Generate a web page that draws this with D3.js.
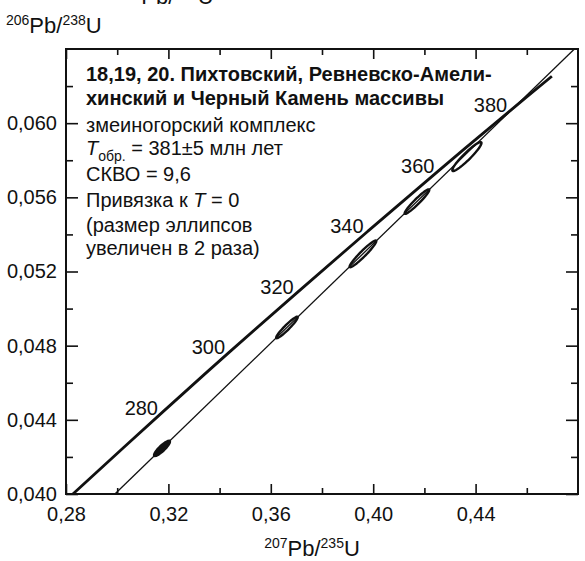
<!DOCTYPE html>
<html>
<head>
<meta charset="utf-8">
<script src="https://cdn.jsdelivr.net/npm/d3@7"></script>
<style>
  body { margin: 0; background: #fff; }
  svg text { font-family: "Liberation Sans", Arial, sans-serif; fill: #111; }
</style>
</head>
<body>
<svg class="chart" width="585" height="561"></svg>
<script>
// valores
const xTicks = [0.28, 0.32, 0.36, 0.40, 0.44]
const xMinor = [0.30, 0.34, 0.38, 0.42, 0.46]
const yTicks = [0.040, 0.044, 0.048, 0.052, 0.056, 0.060]
const yMinor = [0.042, 0.046, 0.050, 0.054, 0.058, 0.062]

// конкордия (207Pb/235U, 206Pb/238U)
const concAge = [253, 280, 300, 320, 340, 360, 380, 391]
const concX = [0.2827, 0.3175, 0.3437, 0.3705, 0.3978, 0.4255, 0.4539, 0.4698]
const concY = [0.0400, 0.04439, 0.04764, 0.05089, 0.05416, 0.05743, 0.06072, 0.06253]
const ageLabels = [280, 300, 320, 340, 360, 380]

// дискордия, привязка к T = 0
const discX = [0.2991, 0.4786]
const discY = [0.0400, 0.0640]

// эллипсы
const ellX = [0.3175, 0.3663, 0.3960, 0.4171, 0.4366]
const ellY = [0.04246, 0.04898, 0.05295, 0.05577, 0.05820]
const ellSx = [0.0031, 0.0042, 0.0052, 0.0048, 0.0057]
const ellSy = [0.00041, 0.00058, 0.00072, 0.00066, 0.00078]
const ellRho = [0.88, 0.95, 0.955, 0.955, 0.94]
const ellFilled = [true, false, false, false, false]

const svg = d3.select(".chart")
const mLeft = 66, mRight = 578, mTop = 49, mBottom = 494

const x = d3.scaleLinear().domain([0.28, 0.48]).range([mLeft, mRight])
const y = d3.scaleLinear().domain([0.040, 0.064]).range([mBottom, mTop])

const fmt2 = v => d3.format(".2f")(v).replace(".", ",")
const fmt3 = v => d3.format(".3f")(v).replace(".", ",")

// ejes con ticks hacia adentro
function styleAxis(g) {
  g.select(".domain").remove()
  g.selectAll(".tick line").attr("stroke", "#111").attr("stroke-width", 1.6)
  g.selectAll("text").style("font-size", "20px").attr("fill", "#111")
}

svg.append("g").attr("transform", `translate(0,${mBottom})`)
  .call(d3.axisBottom(x).tickValues(xTicks).tickSize(-10).tickPadding(13).tickFormat(fmt2))
  .call(styleAxis)
svg.append("g").attr("transform", `translate(0,${mBottom})`)
  .call(d3.axisBottom(x).tickValues(xMinor).tickSize(-6).tickFormat(""))
  .call(styleAxis)
svg.append("g").attr("transform", `translate(0,${mTop})`)
  .call(d3.axisTop(x).tickValues(xTicks).tickSize(-10).tickFormat(""))
  .call(styleAxis)
svg.append("g").attr("transform", `translate(0,${mTop})`)
  .call(d3.axisTop(x).tickValues(xMinor).tickSize(-6).tickFormat(""))
  .call(styleAxis)

svg.append("g").attr("transform", `translate(${mLeft},0)`)
  .call(d3.axisLeft(y).tickValues(yTicks).tickSize(-12).tickPadding(9).tickFormat(fmt3))
  .call(styleAxis)
svg.append("g").attr("transform", `translate(${mLeft},0)`)
  .call(d3.axisLeft(y).tickValues(yMinor).tickSize(-7).tickFormat(""))
  .call(styleAxis)
svg.append("g").attr("transform", `translate(${mRight},0)`)
  .call(d3.axisRight(y).tickValues(yTicks).tickSize(-12).tickFormat(""))
  .call(styleAxis)
svg.append("g").attr("transform", `translate(${mRight},0)`)
  .call(d3.axisRight(y).tickValues(yMinor).tickSize(-7).tickFormat(""))
  .call(styleAxis)

// marco
svg.append("rect")
  .attr("x", mLeft).attr("y", mTop)
  .attr("width", mRight - mLeft).attr("height", mBottom - mTop)
  .attr("fill", "none").attr("stroke", "#111").attr("stroke-width", 2)

// дискордия
svg.append("line")
  .attr("x1", x(discX[0])).attr("y1", y(discY[0]))
  .attr("x2", x(discX[1])).attr("y2", y(discY[1]))
  .attr("stroke", "#111").attr("stroke-width", 1.3)

// конкордия
const line = d3.line().x(d => x(d[0])).y(d => y(d[1])).curve(d3.curveCatmullRom)
svg.append("path")
  .datum(concX.map((v, i) => [v, concY[i]]))
  .attr("d", line)
  .attr("fill", "none").attr("stroke", "#111").attr("stroke-width", 2.8)

// подписи возрастов
ageLabels.forEach(a => {
  const i = concAge.indexOf(a)
  svg.append("text")
    .attr("x", x(concX[i]) - 4).attr("y", y(concY[i]) + 2)
    .attr("text-anchor", "end")
    .style("font-size", "20px")
    .text(a)
})

// эллипсы (sx, sy, rho)
const ellLine = d3.line().curve(d3.curveLinearClosed)
ellX.forEach((cx, i) => {
  const r = ellRho[i]
  const pts = d3.range(0, 360, 6).map(deg => {
    const t = deg * Math.PI / 180
    const ex = cx + ellSx[i] * Math.cos(t)
    const ey = ellY[i] + ellSy[i] * (r * Math.cos(t) + Math.sqrt(1 - r * r) * Math.sin(t))
    return [x(ex), y(ey)]
  })
  svg.append("path")
    .attr("d", ellLine(pts))
    .attr("fill", ellFilled[i] ? "#111" : "none")
    .attr("stroke", "#111").attr("stroke-width", 2.4)
})

// bloque de texto
const textLines = [
  { y: 81, parts: [{ t: "18,19, 20. Пихтовский, Ревневско-Амели-", w: "bold" }] },
  { y: 105, parts: [{ t: "хинский и Черный Камень массивы", w: "bold" }] },
  { y: 132, parts: [{ t: "змеиногорский комплекс" }] },
  { y: 155, parts: [{ t: "T", i: true }, { t: "обр.", sub: true }, { t: " = 381±5 млн лет" }] },
  { y: 181, parts: [{ t: "СКВО = 9,6" }] },
  { y: 207, parts: [{ t: "Привязка к " }, { t: "T", i: true }, { t: " = 0" }] },
  { y: 232, parts: [{ t: "(размер эллипсов" }] },
  { y: 255, parts: [{ t: "увеличен в 2 раза)" }] }
]
textLines.forEach(l => {
  const tx = svg.append("text").attr("x", 86).attr("y", l.y).style("font-size", "20px")
  let shifted = false
  l.parts.forEach(p => {
    const ts = tx.append("tspan").text(p.t)
    if (p.w) ts.style("font-weight", p.w)
    if (p.i) ts.style("font-style", "italic")
    if (p.sub) { ts.style("font-size", "14px").attr("dy", 6); shifted = true }
    else if (shifted) { ts.attr("dy", -6); shifted = false }
  })
})

// titulos de ejes
function isoLabel(g, px, py, a, b, anchor) {
  const t = g.append("text").attr("x", px).attr("y", py)
    .attr("text-anchor", anchor).style("font-size", "22px")
  t.append("tspan").text(a).style("font-size", "14px").attr("dy", -8)
  t.append("tspan").text("Pb/").attr("dy", 8)
  t.append("tspan").text(b).style("font-size", "14px").attr("dy", -8)
  t.append("tspan").text("U").attr("dy", 8)
}
isoLabel(svg, 6, 33, "206", "238", "start")
isoLabel(svg, 312, 556, "207", "235", "middle")
// fragmento cortado arriba
isoLabel(svg, 118, 4, "207", "235", "start")
</script>
</body>
</html>
